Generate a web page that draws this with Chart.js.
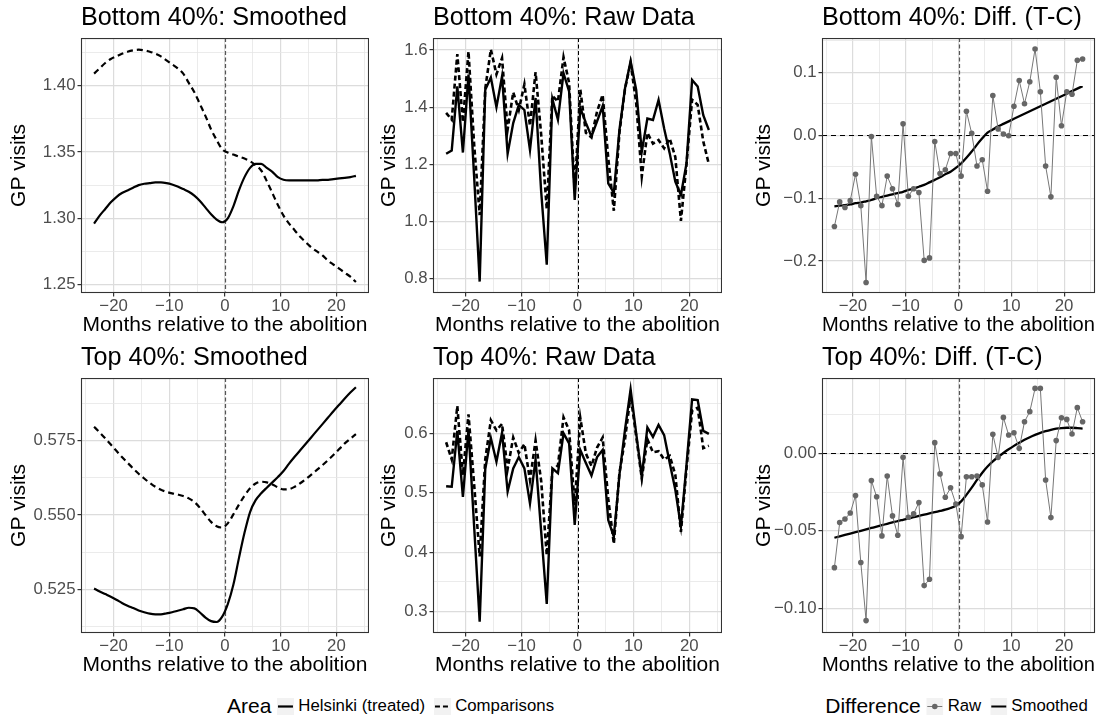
<!DOCTYPE html>
<html>
<head>
<meta charset="utf-8">
<script src="https://cdn.jsdelivr.net/npm/chart.js@4.4.1/dist/chart.umd.min.js"></script>
<style>
  body { margin: 0; background: #fff; width: 1107px; height: 715px; position: relative; overflow: hidden;
         font-family: 'Liberation Sans', Arial, sans-serif; }
  canvas { position: absolute; }
  .legend { position: absolute; top: 694px; height: 24px; display: flex; align-items: center;
            white-space: nowrap; transform: translateX(-50%); color: #000; }
  .legend .ttl { font-size: 21px; margin-right: 6px; }
  .legend .lab { font-size: 16.8px; margin: 0 9px 0 4px; }
  .legend svg { display: block; }
</style>
</head>
<body>
<canvas id="p1"></canvas>
<canvas id="p2"></canvas>
<canvas id="p3"></canvas>
<canvas id="p4"></canvas>
<canvas id="p5"></canvas>
<canvas id="p6"></canvas>

<div class="legend" style="left:395px">
  <span class="ttl">Area</span>
  <svg width="17" height="17"><rect width="17" height="17" fill="#f2f2f2"/><line x1="1" y1="8.5" x2="16" y2="8.5" stroke="#000" stroke-width="2.2"/></svg>
  <span class="lab">Helsinki (treated)</span>
  <svg width="17" height="17"><rect width="17" height="17" fill="#f2f2f2"/><line x1="1" y1="8.5" x2="16" y2="8.5" stroke="#000" stroke-width="2.2" stroke-dasharray="5,3"/></svg>
  <span class="lab">Comparisons</span>
</div>
<div class="legend" style="left:961px">
  <span class="ttl">Difference</span>
  <svg width="17" height="17"><rect width="17" height="17" fill="#f2f2f2"/><line x1="1" y1="8.5" x2="16" y2="8.5" stroke="#777" stroke-width="1"/><circle cx="8.5" cy="8.5" r="2.8" fill="#666"/></svg>
  <span class="lab">Raw</span>
  <svg width="17" height="17"><rect width="17" height="17" fill="#f2f2f2"/><line x1="1" y1="8.5" x2="16" y2="8.5" stroke="#000" stroke-width="2.2"/></svg>
  <span class="lab">Smoothed</span>
</div>

<script>
// Months relative to the abolition (x positions of every series)
const months = [-23.5, -22.5, -21.5, -20.5, -19.5, -18.5, -17.5, -16.5, -15.5, -14.5, -13.5, -12.5,
                -11.5, -10.5, -9.5, -8.5, -7.5, -6.5, -5.5, -4.5, -3.5, -2.5, -1.5, -0.5,
                0.5, 1.5, 2.5, 3.5, 4.5, 5.5, 6.5, 7.5, 8.5, 9.5, 10.5, 11.5,
                12.5, 13.5, 14.5, 15.5, 16.5, 17.5, 18.5, 19.5, 20.5, 21.5, 22.5, 23.5];

// Bottom 40%
const botSmoothHel = [1.296, 1.302, 1.307, 1.312, 1.316, 1.319, 1.321, 1.323, 1.325, 1.326, 1.3265, 1.327,
                      1.327, 1.3265, 1.3255, 1.324, 1.322, 1.320, 1.317, 1.313, 1.308, 1.303, 1.299, 1.297,
                      1.300, 1.309, 1.321, 1.331, 1.338, 1.341, 1.341, 1.338, 1.335, 1.331, 1.329, 1.3285,
                      1.3285, 1.3285, 1.3285, 1.3285, 1.3285, 1.329, 1.329, 1.3295, 1.330, 1.3305, 1.331, 1.332];
const botSmoothComp = [1.409, 1.413, 1.417, 1.420, 1.422, 1.424, 1.4255, 1.4265, 1.427, 1.4265, 1.4255, 1.424,
                       1.422, 1.419, 1.416, 1.413, 1.409, 1.402, 1.395, 1.386, 1.377, 1.367, 1.359, 1.352,
                       1.3495, 1.348, 1.3465, 1.345, 1.343, 1.340, 1.336, 1.328, 1.319, 1.310, 1.302, 1.296,
                       1.291, 1.286, 1.282, 1.278, 1.275, 1.272, 1.268, 1.265, 1.262, 1.259, 1.256, 1.252];
const botRawHel = [1.237, 1.248, 1.473, 1.241, 1.514, 1.16, 0.789, 1.461, 1.504, 1.40, 1.508, 1.237,
                   1.344, 1.408, 1.39, 1.25, 1.432, 1.105, 0.848, 1.429, 1.356, 1.519, 1.455, 1.075,
                   1.397, 1.345, 1.297, 1.35, 1.404, 1.133, 1.10, 1.32, 1.466, 1.561, 1.46, 1.244,
                   1.36, 1.355, 1.425, 1.325, 1.238, 1.139, 1.092, 1.203, 1.495, 1.472, 1.372, 1.32];
const botRawComp = [1.380, 1.356, 1.586, 1.348, 1.595, 1.272, 1.022, 1.465, 1.602, 1.515, 1.572, 1.322,
                    1.452, 1.390, 1.480, 1.335, 1.523, 1.304, 1.043, 1.439, 1.420, 1.575, 1.485, 1.106,
                    1.462, 1.310, 1.294, 1.385, 1.443, 1.222, 1.037, 1.310, 1.464, 1.555, 1.414, 1.157,
                    1.310, 1.272, 1.285, 1.256, 1.290, 1.225, 1.002, 1.200, 1.426, 1.408, 1.280, 1.200];
const botDiffRaw = [-0.145, -0.106, -0.115, -0.104, -0.062, -0.112, -0.234, -0.002, -0.097, -0.112, -0.065, -0.085,
                    -0.110, 0.018, -0.097, -0.085, -0.091, -0.199, -0.195, -0.010, -0.061, -0.055, -0.029, -0.029,
                    -0.065, 0.038, 0.003, -0.049, -0.039, -0.089, 0.063, 0.010, 0.002, -0.001, 0.046, 0.087,
                    0.050, 0.085, 0.137, 0.069, -0.049, -0.098, 0.092, 0.015, 0.069, 0.065, 0.119, 0.121];
const botDiffSmooth = [-0.113, -0.112, -0.111, -0.110, -0.108, -0.107, -0.105, -0.103, -0.100, -0.098, -0.096, -0.094,
                       -0.092, -0.090, -0.087, -0.085, -0.082, -0.079, -0.075, -0.071, -0.067, -0.062, -0.058, -0.052,
                       -0.045, -0.036, -0.026, -0.015, -0.005, 0.004, 0.009, 0.014, 0.018, 0.022, 0.026, 0.030,
                       0.034, 0.038, 0.042, 0.046, 0.050, 0.054, 0.058, 0.062, 0.066, 0.070, 0.074, 0.078];

// Top 40%
const topSmoothHel = [0.5253, 0.5243, 0.5234, 0.5225, 0.5215, 0.5204, 0.5195, 0.5187, 0.5179, 0.5173, 0.5168, 0.5166,
                      0.5166, 0.5169, 0.5173, 0.5178, 0.5183, 0.5188, 0.5186, 0.5172, 0.5155, 0.5143, 0.5140, 0.5158,
                      0.5200, 0.5265, 0.5355, 0.5440, 0.5510, 0.5550, 0.5573, 0.5592, 0.5610, 0.5628, 0.5648, 0.5673,
                      0.5696, 0.5718, 0.5740, 0.5762, 0.5784, 0.5806, 0.5828, 0.5850, 0.5871, 0.5892, 0.5912, 0.5930];
const topSmoothComp = [0.5797, 0.5778, 0.5758, 0.5737, 0.5716, 0.5695, 0.5676, 0.5657, 0.5639, 0.5623, 0.5608, 0.5595,
                       0.5585, 0.5578, 0.5573, 0.5569, 0.5564, 0.5556, 0.5544, 0.5524, 0.5500, 0.5477, 0.5462, 0.5458,
                       0.5472, 0.5502, 0.5535, 0.5565, 0.5590, 0.5606, 0.5612, 0.5610, 0.5603, 0.5593, 0.5586, 0.5587,
                       0.5595, 0.5607, 0.5621, 0.5636, 0.5652, 0.5668, 0.5685, 0.5703, 0.5722, 0.5741, 0.5757, 0.5772];
const topRawHel = [0.511, 0.510, 0.604, 0.493, 0.606, 0.445, 0.283, 0.540, 0.592, 0.552, 0.601, 0.502,
                   0.541, 0.560, 0.541, 0.482, 0.556, 0.435, 0.313, 0.541, 0.533, 0.600, 0.583, 0.446,
                   0.572, 0.550, 0.529, 0.560, 0.572, 0.454, 0.426, 0.530, 0.606, 0.674, 0.600, 0.527,
                   0.610, 0.594, 0.614, 0.597, 0.550, 0.505, 0.443, 0.547, 0.657, 0.656, 0.604, 0.599];
const topRawComp = [0.585, 0.556, 0.646, 0.530, 0.632, 0.515, 0.393, 0.556, 0.622, 0.605, 0.616, 0.540,
                    0.593, 0.567, 0.582, 0.521, 0.588, 0.520, 0.395, 0.537, 0.546, 0.627, 0.605, 0.479,
                    0.626, 0.566, 0.545, 0.576, 0.593, 0.490, 0.414, 0.533, 0.590, 0.664, 0.595, 0.524,
                    0.590, 0.568, 0.570, 0.556, 0.562, 0.530, 0.434, 0.540, 0.638, 0.643, 0.575, 0.579];
const topDiffRaw = [-0.0738, -0.0447, -0.0424, -0.0385, -0.0273, -0.0705, -0.108, -0.0176, -0.028, -0.0533, -0.0146, -0.0404,
                    -0.0529, -0.0026, -0.0413, -0.0391, -0.0318, -0.0854, -0.0813, 0.0069, -0.0133, -0.0284, -0.0222, -0.0327,
                    -0.0538, -0.0151, -0.0151, -0.0146, -0.0204, -0.0443, 0.0123, -0.0026, 0.0232, 0.0118, 0.0133, 0.0032,
                    0.0204, 0.0269, 0.0419, 0.0419, -0.0172, -0.0415, 0.0082, 0.0230, 0.0219, 0.0125, 0.0295, 0.0204];
const topDiffSmooth = [-0.0545, -0.0536, -0.0527, -0.0518, -0.0509, -0.0500, -0.0491, -0.0482, -0.0473, -0.0464, -0.0455, -0.0446,
                       -0.0437, -0.0429, -0.0421, -0.0412, -0.0404, -0.0396, -0.0388, -0.0380, -0.0372, -0.0364, -0.0353, -0.0338,
                       -0.0310, -0.0268, -0.0222, -0.0172, -0.0125, -0.0085, -0.0052, -0.0024, 0.0002, 0.0026, 0.0048, 0.0068,
                       0.0087, 0.0104, 0.0119, 0.0132, 0.0143, 0.0152, 0.0159, 0.0163, 0.0165, 0.0165, 0.0163, 0.0160];

// Axis breaks
const xMajor = [-20, -10, 0, 10, 20];
const xMinor = [-25, -15, -5, 5, 15, 25];
const yBreaks = {
  p1: { major: [1.25, 1.30, 1.35, 1.40], minor: [1.275, 1.325, 1.375, 1.425], digits: 2 },
  p2: { major: [0.8, 1.0, 1.2, 1.4, 1.6], minor: [0.9, 1.1, 1.3, 1.5], digits: 1 },
  p3: { major: [-0.2, -0.1, 0.0, 0.1], minor: [-0.25, -0.15, -0.05, 0.05, 0.15], digits: 1 },
  p4: { major: [0.525, 0.550, 0.575], minor: [0.5125, 0.5375, 0.5625, 0.5875], digits: 3 },
  p5: { major: [0.3, 0.4, 0.5, 0.6], minor: [0.35, 0.45, 0.55, 0.65], digits: 1 },
  p6: { major: [-0.10, -0.05, 0.00], minor: [-0.075, -0.025, 0.025], digits: 2 }
};

const FONT = "'Liberation Sans', Arial, sans-serif";
const isIn = (arr, v) => arr.some(a => Math.abs(a - v) < 1e-9);
const pts = arr => months.map((m, i) => ({ x: m, y: arr[i] }));
// ggplot-style labels use a real minus sign
const fmt = (v, d) => (v < -1e-12 ? '\u2212' : '') + Math.abs(v).toFixed(d);

// panel border + reference lines
const framePlugin = {
  id: 'frame',
  beforeDatasetsDraw(chart, args, opts) {
    const { ctx, chartArea: a, scales: { x, y } } = chart;
    ctx.save();
    ctx.beginPath();
    ctx.rect(a.left, a.top, a.width, a.height);
    ctx.clip();
    if (opts.hline !== null) {
      const py = Math.round(y.getPixelForValue(opts.hline)) + 0.5;
      ctx.strokeStyle = '#000';
      ctx.lineWidth = 1;
      ctx.setLineDash([5, 4]);
      ctx.beginPath(); ctx.moveTo(a.left, py); ctx.lineTo(a.right, py); ctx.stroke();
    }
    const px = Math.round(x.getPixelForValue(0)) + 0.5;
    ctx.strokeStyle = opts.vcolor;
    ctx.lineWidth = opts.vwidth;
    ctx.setLineDash(opts.vdash);
    ctx.beginPath(); ctx.moveTo(px, a.top); ctx.lineTo(px, a.bottom); ctx.stroke();
    ctx.restore();
  },
  afterDraw(chart) {
    const { ctx, chartArea: a } = chart;
    ctx.save();
    ctx.strokeStyle = '#333';
    ctx.lineWidth = 1.1;
    ctx.strokeRect(a.left + 0.5, a.top + 0.5, a.width - 1, a.height - 1);
    ctx.restore();
  }
};

function gridOpts(major) {
  return {
    color: c => isIn(major, c.tick.value) ? '#dcdcdc' : '#e6e6e6',
    lineWidth: c => isIn(major, c.tick.value) ? 1.2 : 0.8,
    tickLength: 3.5,
    tickColor: c => isIn(major, c.tick.value) ? '#333' : 'rgba(0,0,0,0)'
  };
}

function makePanel(id, box, title, yMin, yMax, datasets, refs) {
  const cv = document.getElementById(id);
  cv.width = box.w; cv.height = 340;
  cv.style.left = box.left + 'px'; cv.style.top = box.top + 'px';
  const yb = yBreaks[id];
  return new Chart(cv, {
    type: 'line',
    data: { datasets },
    plugins: [framePlugin],
    options: {
      responsive: false,
      animation: false,
      devicePixelRatio: 1,
      layout: { padding: 0 },
      elements: { point: { radius: 0 } },
      plugins: {
        legend: { display: false },
        tooltip: { enabled: false },
        title: {
          display: true, text: title, align: 'start', fullSize: false, color: '#000',
          font: { family: FONT, size: 25.2, weight: 'normal' }, padding: { top: 3.4, bottom: 4.4 }
        },
        frame: refs
      },
      scales: {
        x: {
          type: 'linear', min: -25.85, max: 25.85,
          afterBuildTicks: s => { s.ticks = [...xMajor, ...xMinor].sort((a, b) => a - b).map(v => ({ value: v })); },
          afterFit: s => { s.height = 47; },
          border: { display: false },
          grid: gridOpts(xMajor),
          ticks: {
            autoSkip: false, maxRotation: 0, padding: 0, color: '#4d4d4d',
            font: { family: FONT, size: 16.8 },
            callback: v => isIn(xMajor, v) ? fmt(v, 0) : ''
          },
          title: {
            display: true, text: 'Months relative to the abolition', color: '#000',
            font: { family: FONT, size: 21 }, padding: { top: 0, bottom: 1.9 }
          }
        },
        y: {
          type: 'linear', min: yMin, max: yMax,
          afterBuildTicks: s => { s.ticks = [...yb.major, ...yb.minor].sort((a, b) => a - b).map(v => ({ value: v })); },
          afterFit: s => { s.width = box.yw; },
          border: { display: false },
          grid: gridOpts(yb.major),
          ticks: {
            autoSkip: false, padding: 2, color: '#4d4d4d',
            font: { family: FONT, size: 16.8 },
            callback: v => isIn(yb.major, v) ? fmt(v, yb.digits) : ''
          },
          title: {
            display: true, text: 'GP visits', color: '#000',
            font: { family: FONT, size: 21 }, padding: { top: box.ypad, bottom: 0 }
          }
        }
      }
    }
  });
}

function smoothSets(hel, comp) {
  return [
    { data: pts(comp), borderColor: '#000', borderWidth: 2.2, borderDash: [6, 4], cubicInterpolationMode: 'monotone' },
    { data: pts(hel), borderColor: '#000', borderWidth: 2.2, cubicInterpolationMode: 'monotone' }
  ];
}
function rawSets(hel, comp) {
  return [
    { data: pts(comp), borderColor: '#000', borderWidth: 2.6, borderDash: [5, 3] },
    { data: pts(hel), borderColor: '#000', borderWidth: 2.4 }
  ];
}
function diffSets(raw, smooth) {
  return [
    { data: pts(raw), borderColor: '#777', borderWidth: 1, pointRadius: 2.8,
      pointBackgroundColor: '#666', pointBorderWidth: 0 },
    { data: pts(smooth), borderColor: '#000', borderWidth: 2.3, cubicInterpolationMode: 'monotone' }
  ];
}

const greyV = { hline: null, vcolor: '#555', vwidth: 1.2, vdash: [4, 2.5] };
const blackV = { hline: null, vcolor: '#000', vwidth: 1, vdash: [4, 2.5] };
const diffV = { hline: 0, vcolor: '#555', vwidth: 1.2, vdash: [4, 2.5] };

const col1 = { left: 3, w: 366, yw: 78, ypad: 3.4 };
const col2 = { left: 371, w: 351, yw: 62, ypad: 5.4 };
const col3 = { left: 745, w: 354, yw: 77, ypad: 6.4 };

makePanel('p1', { ...col1, top: 0 }, 'Bottom 40%: Smoothed', 1.2437, 1.4358, smoothSets(botSmoothHel, botSmoothComp), greyV);
makePanel('p2', { ...col2, top: 0 }, 'Bottom 40%: Raw Data', 0.749, 1.642, rawSets(botRawHel, botRawComp), blackV);
makePanel('p3', { ...col3, top: 0 }, 'Bottom 40%: Diff. (T-C)', -0.2508, 0.1544, diffSets(botDiffRaw, botDiffSmooth), diffV);
makePanel('p4', { ...col1, top: 340 }, 'Top 40%: Smoothed', 0.5103, 0.5961, smoothSets(topSmoothHel, topSmoothComp), greyV);
makePanel('p5', { ...col2, top: 340 }, 'Top 40%: Raw Data', 0.264, 0.693, rawSets(topRawHel, topRawComp), blackV);
makePanel('p6', { ...col3, top: 340 }, 'Top 40%: Diff. (T-C)', -0.116, 0.0486, diffSets(topDiffRaw, topDiffSmooth), diffV);
</script>
</body>
</html>
